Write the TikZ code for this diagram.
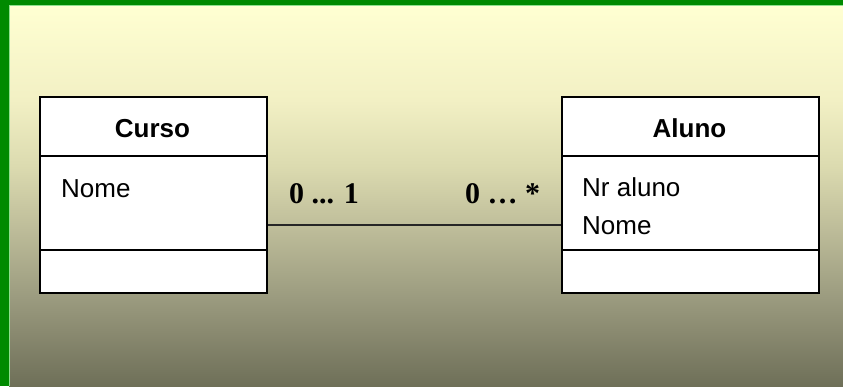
\documentclass[tikz,border=0pt]{standalone}
\usepackage{fontspec}
\setmainfont{Liberation Sans}
\newfontfamily\multfont{Liberation Serif}
\usetikzlibrary{positioning}

\definecolor{frameGreen}{HTML}{008A00}
\definecolor{frameEdge}{HTML}{8EE08E}
\definecolor{bgA}{HTML}{FFFFD2}
\definecolor{bgB}{HTML}{F2F0C4}
\definecolor{bgC}{HTML}{DCDBB0}
\definecolor{bgD}{HTML}{BDBC99}
\definecolor{bgE}{HTML}{9A9A7E}
\definecolor{bgF}{HTML}{6E6F58}

% light cream at the top fading to olive grey at the bottom
\pgfdeclareverticalshading{slidebg}{100bp}{%
  color(0bp)=(bgF); color(25bp)=(bgF); color(36.3bp)=(bgE);
  color(45.5bp)=(bgD); color(54bp)=(bgC); color(62.5bp)=(bgB);
  color(75bp)=(bgA); color(100bp)=(bgA)}

\tikzset{
  classbox/.style={draw=black, line width=2pt, fill=white, inner sep=0pt,
    anchor=north west},
  classname/.style={font=\fontsize{26}{30}\selectfont\bfseries, anchor=base, inner sep=0pt},
  attr/.style={font=\fontsize{26}{30}\selectfont, anchor=base west, inner sep=0pt},
  mult/.style={font=\multfont\fontsize{30}{34}\selectfont\bfseries, anchor=base, inner sep=0pt},
  assoc/.style={line width=2pt, draw=black!85},
}

\begin{document}
\begin{tikzpicture}[x=1pt, y=-1pt]
  \useasboundingbox (0,0) rectangle (843,386);

  % slide background and frame
  \fill[shading=slidebg] (9,5) rectangle (843,386);
  \fill[frameGreen] (0,0) rectangle (843,5);
  \fill[frameGreen] (0,0) rectangle (9,386);
  \fill[frameEdge] (9,5) rectangle (843,6);
  \fill[frameEdge] (9,5) rectangle (10,386);

  % class Curso
  \node[classbox, minimum width=227pt, minimum height=196pt] (curso) at (39,96) {};
  \draw[line width=2pt] (39,156) -- (266,156);
  \draw[line width=2pt] (39,250) -- (266,250);
  \node[classname] (cursoName) at (152.5,137) {Curso};
  \node[attr] (cursoNome) at (61,197) {Nome};

  % class Aluno
  \node[classbox, minimum width=257pt, minimum height=196pt] (aluno) at (561,96) {};
  \draw[line width=2pt] (561,156) -- (818,156);
  \draw[line width=2pt] (561,250) -- (818,250);
  \node[classname] (alunoName) at (689.5,137) {Aluno};
  \node[attr] (alunoNr) at (582,196) {Nr aluno};
  \node[attr] (alunoNome) at (582,234) {Nome};

  % association with multiplicities
  \draw[assoc] ([yshift=-30pt]curso.east) -- ([yshift=-30pt]aluno.west);
  \node[mult] (multCurso) at (324,203) {0 ... 1};
  \node[mult] (multAluno) at (502.5,203) {0 … *};
\end{tikzpicture}
\end{document}
